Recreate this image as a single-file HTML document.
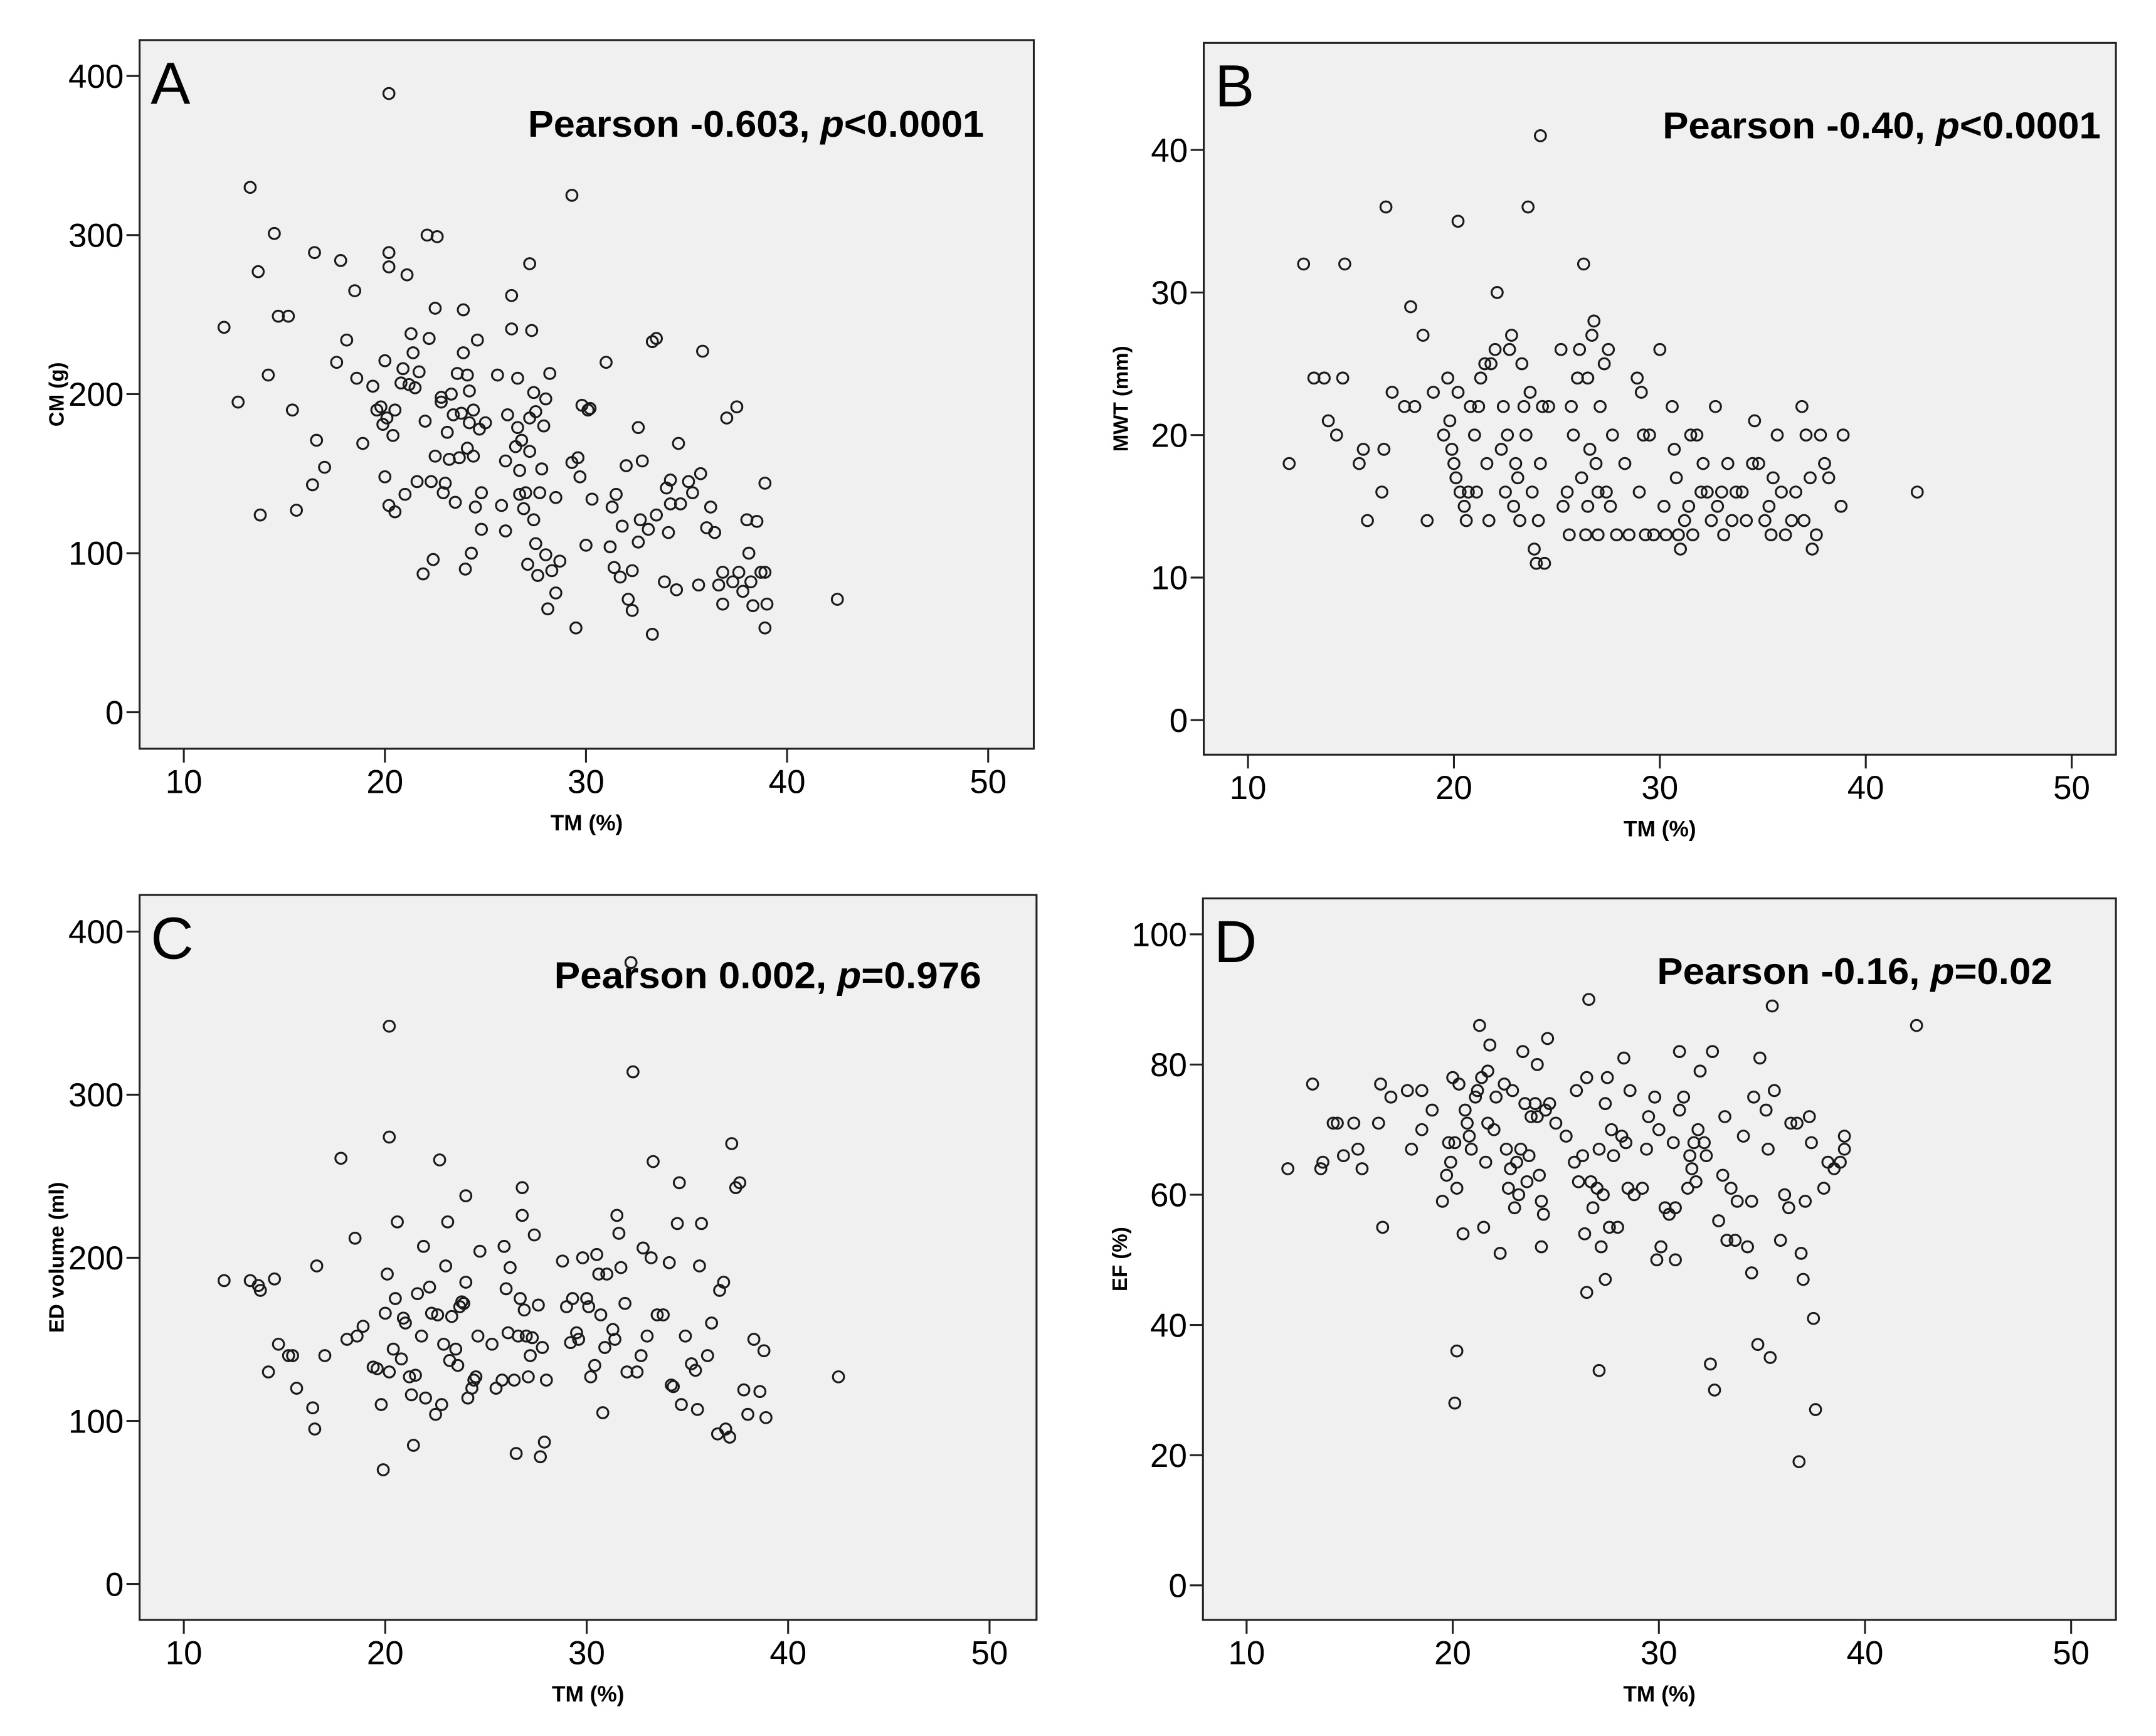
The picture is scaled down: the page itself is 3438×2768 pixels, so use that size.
<!DOCTYPE html>
<html><head><meta charset="utf-8"><style>
html,body{margin:0;padding:0;background:#fff}
svg{display:block}
text{font-family:"Liberation Sans",Arial,sans-serif;fill:#000}
</style></head><body>
<svg id="fig" width="3438" height="2768" viewBox="0 0 1560 1256" preserveAspectRatio="none" xmlns="http://www.w3.org/2000/svg"></svg>
<script>
const xTicks=[10,20,30,40,50];
const yTicksA=[0,100,200,300,400];
const yTicksB=[0,10,20,30,40];
const yTicksC=[0,100,200,300,400];
const yTicksD=[0,20,40,60,80,100];
const xA=[12,12.7,13.3,13.7,13.8,14.2,14.5,14.7,15.2,15.4,15.6,16.4,16.5,16.6,17,17.6,17.8,18.1,18.5,18.6,18.9,19.4,19.6,19.8,19.9,20,20,20.1,20.2,20.2,20.2,20.2,20.4,20.5,20.5,20.8,20.9,21,21.1,21.2,21.3,21.4,21.5,21.6,21.7,21.9,22,22.1,22.2,22.3,22.4,22.5,22.5,22.6,22.8,22.8,22.9,23,23.1,23.2,23.3,23.4,23.5,23.6,23.7,23.8,23.9,23.9,24,24.1,24.1,24.2,24.2,24.3,24.4,24.4,24.5,24.6,24.7,24.8,24.8,25,25.6,25.8,26,26,26.1,26.3,26.3,26.5,26.6,26.6,26.7,26.7,26.8,26.9,27,27.1,27.2,27.2,27.2,27.3,27.4,27.4,27.5,27.5,27.6,27.7,27.8,27.9,28,28,28.1,28.2,28.3,28.5,28.7,28.5,29.3,29.3,29.6,29.7,29.8,30,30.1,30.2,30.3,31,31.2,31.3,31.4,31.5,31.7,31.8,32,32.1,32.3,32.3,32.6,32.6,32.7,32.8,33.1,33.3,33.5,33.5,33.9,34,34.1,34.2,34.2,34.5,34.6,34.7,35.1,35.3,35.6,35.7,35.8,36,36.2,36.4,36.6,36.8,36.8,37,37.3,37.6,37.8,38,38.1,38.2,38.3,38.5,37.5,38.9,39,38.7,38.9,38.9,29.5,33.3,42.5];
const yA=[242,195,330,277,124,212,301,249,249,190,127,143,289,171,154,220,284,234,265,210,169,205,190,192,181,148,221,185,389,280,289,130,174,126,190,207,216,137,275,206,238,226,204,145,214,87,183,300,235,145,96,254,161,299,195,198,138,144,176,159,200,187,132,213,160,188,253,226,90,166,212,182,202,100,161,190,129,234,178,138,115,182,212,130,114,158,187,241,262,167,210,179,137,152,171,128,138,93,164,185,282,240,201,121,106,189,86,138,153,180,99,197,65,213,89,75,95,135,325,157,160,148,193,105,190,191,134,220,104,129,91,137,85,117,155,71,64,89,107,179,121,158,115,233,235,124,82,141,113,131,146,77,169,131,145,138,80,150,227,116,129,113,80,68,88,185,82,88,76,121,100,82,67,120,192,144,68,88,88,53,53,49,71];
const xB=[12,12.7,13.2,13.7,13.9,14.3,14.6,14.7,15.4,15.6,15.8,16.5,16.6,16.7,17,17.6,17.9,18.1,18.5,18.7,19,19.5,19.7,19.8,19.9,20,20.1,20.2,20.2,20.3,20.5,20.6,20.7,20.8,21,21.1,21.2,21.3,21.5,21.6,21.7,21.8,22,22.1,22.3,22.4,22.5,22.6,22.7,22.8,22.9,23,23.1,23.2,23.3,23.4,23.5,23.6,23.7,23.8,23.9,24,24.1,24.2,24.2,24.3,24.4,24.6,25.2,25.3,25.5,25.6,25.7,25.8,26,26.1,26.2,26.3,26.4,26.5,26.5,26.6,26.7,26.8,26.9,27,27,27.1,27.3,27.4,27.5,27.6,27.7,27.9,28.3,28.5,28.9,29,29.1,29.2,29.3,29.5,29.7,30,30.2,30.3,30.6,30.7,30.8,30.9,31,31.2,31.4,31.5,31.6,31.8,32,32.1,32.3,32.5,32.7,32.8,33,33.1,33.3,33.5,33.7,34,34.2,34.5,34.6,34.8,35.1,35.3,35.4,35.5,35.7,35.9,36.1,36.4,36.6,36.9,37,37.1,37.3,37.4,37.6,37.8,38,38.2,38.9,38.8,42.5];
const yB=[18,32,24,24,21,20,24,32,18,19,14,16,19,36,23,22,29,22,27,14,23,20,24,21,19,18,17,35,23,16,15,14,16,22,20,16,22,24,25,18,14,25,26,30,19,22,16,20,26,27,15,18,17,14,25,22,20,36,23,16,12,11,14,41,18,22,11,22,26,15,16,13,22,20,24,26,17,32,13,24,15,19,27,28,18,13,16,22,25,16,26,15,20,13,18,13,24,16,23,20,13,20,13,26,15,13,22,19,17,13,12,14,15,20,13,20,16,18,16,14,22,15,16,13,18,14,16,16,14,18,21,18,14,15,13,17,20,16,13,14,16,22,14,20,17,12,13,20,18,17,20,15,16];
const xC=[12,13.3,13.7,13.8,14.2,14.5,14.7,15.2,15.4,15.6,16.4,16.5,16.6,17,17.8,18.1,18.5,18.6,18.9,19.4,19.6,19.8,19.9,20,20.1,20.2,20.2,20.2,20.4,20.5,20.6,20.8,20.9,21,21.2,21.3,21.4,21.5,21.6,21.8,21.9,22,22.2,22.3,22.5,22.6,22.7,22.8,22.9,23,23.1,23.2,23.3,23.5,23.6,23.7,23.8,23.9,24,24,24.1,24.3,24.4,24.5,24.6,24.7,25.3,25.5,25.8,25.9,26,26.1,26.2,26.4,26.5,26.6,26.7,26.8,26.8,26.9,27,27.1,27.2,27.3,27.4,27.6,27.7,27.8,27.9,28,28.8,29,29.2,29.3,29.5,29.6,29.8,30,30.1,30.2,30.4,30.5,30.6,30.7,30.8,30.9,31,31.3,31.4,31.5,31.6,31.7,31.9,32,32.2,32.3,32.5,32.7,32.8,33,33.2,33.3,33.5,33.8,34.1,34.2,34.3,34.5,34.6,34.7,34.9,35.2,35.4,35.5,35.6,35.7,36,36.2,36.5,36.6,36.8,36.9,37.1,37.2,37.4,37.6,37.8,38,38.3,38.6,38.8,38.9,42.5];
const yC=[186,186,183,180,130,187,147,140,140,120,108,95,195,140,261,150,212,152,158,133,132,110,70,166,190,342,274,130,144,175,222,138,163,160,127,116,85,128,178,152,207,114,182,166,104,165,260,110,147,195,222,137,164,144,134,170,173,172,185,238,114,120,125,127,152,204,147,120,125,207,181,154,194,125,80,152,175,243,226,168,152,127,140,151,214,171,78,145,87,125,198,170,148,175,154,150,200,175,170,127,134,202,190,165,105,145,190,156,150,226,215,194,172,130,381,314,130,140,206,152,200,259,165,165,197,122,121,221,246,110,152,135,131,107,195,221,140,160,92,180,185,95,90,270,243,246,119,104,150,118,143,102,127];
const xD=[12,13.2,13.6,13.7,14.2,14.4,14.7,15.2,15.4,15.6,16.4,16.5,16.6,17,17.8,18,18.5,18.5,19,19.5,19.7,19.8,19.9,20,20.1,20.1,20.2,20.2,20.3,20.5,20.6,20.7,20.8,20.9,21.1,21.2,21.3,21.4,21.5,21.6,21.7,21.7,21.8,22,22.1,22.3,22.5,22.6,22.7,22.8,22.9,23,23.1,23.2,23.3,23.4,23.5,23.6,23.7,23.8,24,24.1,24.1,24.2,24.3,24.3,24.4,24.5,24.6,24.7,25,25.5,25.9,26,26.1,26.3,26.4,26.5,26.6,26.5,26.7,26.8,27,27.1,27.1,27.2,27.3,27.4,27.4,27.5,27.6,27.7,27.8,28,28.2,28.3,28.4,28.5,28.6,28.8,29.2,29.4,29.5,29.8,29.9,30.1,30,30.3,30.5,30.7,30.8,30.8,31,31,31.2,31.4,31.5,31.6,31.7,31.8,31.9,32,32.2,32.3,32.5,32.6,32.7,32.9,33.1,33.2,33.3,33.5,33.7,33.8,34.1,34.3,34.5,34.5,34.6,34.8,34.9,35.2,35.3,35.4,35.5,35.6,35.9,36.1,36.3,36.4,36.7,36.8,36.9,37,37.1,37.3,37.4,37.5,37.6,38,38.2,38.5,38.8,39,39,42.5];
const yD=[64,77,64,65,71,71,66,71,67,64,71,77,55,75,76,67,76,70,73,59,63,68,65,78,68,28,61,36,77,54,73,71,69,67,75,76,86,78,55,65,71,79,83,70,75,51,77,67,61,64,76,58,65,60,67,82,74,62,66,72,74,72,80,63,59,52,57,73,84,74,71,69,65,76,62,66,54,45,90,78,62,58,61,33,67,52,60,74,47,78,55,70,66,55,69,81,68,61,76,60,61,67,72,75,50,52,70,58,57,68,50,58,82,73,75,61,66,64,68,62,70,79,68,66,34,82,30,56,63,72,53,61,53,59,69,52,59,48,75,37,81,73,67,35,89,76,53,60,58,71,71,19,51,47,59,72,68,41,27,61,65,64,65,67,69,86];

const NS='http://www.w3.org/2000/svg';
const svg=document.getElementById('fig');
function mk(tag,attrs,parent){const e=document.createElementNS(NS,tag);for(const k in attrs)e.setAttribute(k,attrs[k]);(parent||svg).appendChild(e);return e;}

const panels=[
 {id:'a',letter:'A',xs:xA,ys:yA,yt:yTicksA,L:101,R:748,T:29,B:541.7,x10:133,x50:715,y0:515.3,ymax:400,ytop:55,ytitle:'CM (g)',txt:['Pearson -0.603, ','p','<0.0001'],tx:382,tw:330,ty:99},
 {id:'b',letter:'B',xs:xB,ys:yB,yt:yTicksB,L:871,R:1531,T:31,B:546,x10:903,x50:1499,y0:521,ymax:40,ytop:108.5,ytitle:'MWT (mm)',txt:['Pearson -0.40, ','p','<0.0001'],tx:1203,tw:317,ty:100},
 {id:'c',letter:'C',xs:xC,ys:yC,yt:yTicksC,L:101,R:750,T:647.5,B:1172,x10:133,x50:716,y0:1146,ymax:400,ytop:674,ytitle:'ED volume (ml)',txt:['Pearson 0.002, ','p','=0.976'],tx:401,tw:309,ty:715},
 {id:'d',letter:'D',xs:xD,ys:yD,yt:yTicksD,L:870.4,R:1531,T:650,B:1172,x10:902,x50:1498.6,y0:1147,ymax:100,ytop:676,ytitle:'EF (%)',txt:['Pearson -0.16, ','p','=0.02'],tx:1199,tw:286,ty:712}
];

panels.forEach(p=>{
 const g=mk('g',{});
 
 
 const sx=v=>p.x10+(v-10)*(p.x50-p.x10)/40;
 const sy=v=>p.y0-(v)*(p.y0-p.ytop)/p.ymax;
 const bg=mk('rect',{x:p.L,y:p.T,width:p.R-p.L,height:p.B-p.T,fill:'#f0f0f0',stroke:'#222','stroke-width':1.4},g);
 
 
 xTicks.forEach(t=>{
  const X=sx(t);
  mk('line',{x1:X,x2:X,y1:p.B,y2:p.B+10,stroke:'#222','stroke-width':1.4},g);
  const tl=mk('text',{x:X,y:p.B+32,'font-size':24,'text-anchor':'middle'},g);
  tl.textContent=t;
  
  
 });
 p.yt.forEach(t=>{
  const Y=sy(t);
  mk('line',{x1:p.L-9.5,x2:p.L,y1:Y,y2:Y,stroke:'#222','stroke-width':1.4},g);
  const tl=mk('text',{x:p.L-11.5,y:Y+8.5,'font-size':24,'text-anchor':'end'},g);
  tl.textContent=t;
  
  
 });
 const xt=mk('text',{x:(p.L+p.R)/2,y:p.B+59,'font-size':16,'font-weight':'bold','text-anchor':'middle'},g);
 xt.textContent='TM (%)';
 
 
 const cy=(p.T+p.B)/2;
 const yl=mk('text',{x:0,y:0,'font-size':15,'font-weight':'bold','text-anchor':'middle',transform:`translate(${p.L-55},${cy}) rotate(-90)`},g);
 yl.textContent=p.ytitle;
 
 
 const lt=mk('text',{x:p.L+8,y:p.T+46,'font-size':43},g);
 lt.textContent=p.letter;
 
 
 const pt=mk('text',{x:p.tx,y:p.ty,'font-size':27,'font-weight':'bold',textLength:p.tw,lengthAdjust:'spacingAndGlyphs'},g);
 
 
 const s1=mk('tspan',{},pt);s1.textContent=p.txt[0];
 const s2=mk('tspan',{'font-style':'italic'},pt);s2.textContent=p.txt[1];
 const s3=mk('tspan',{},pt);s3.textContent=p.txt[2];
 p.xs.forEach((v,i)=>{
  const c=mk('circle',{cx:sx(v),cy:sy(p.ys[i]),r:4,fill:'none',stroke:'#1a1a1a','stroke-width':1.4},g);
  
  
 });
});
</script>
</body></html>
